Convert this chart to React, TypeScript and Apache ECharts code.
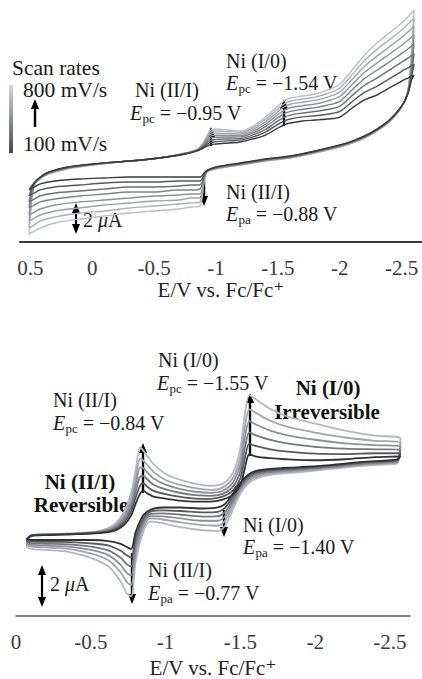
import React, { useEffect, useRef } from 'react';
import * as echarts from 'echarts';

const SERIF = '"Liberation Serif", "DejaVu Serif", serif';

// ---------- Top panel: scan rates 100–800 mV/s ----------
const TOP_RATES = ['100 mV/s', '200 mV/s', '300 mV/s', '400 mV/s', '500 mV/s', '600 mV/s', '700 mV/s', '800 mV/s'];
const TOP_COLORS = ['#3b3b3d', '#56585c', '#6b6e73', '#7e8187', '#8f929a', '#9ea2aa', '#acb0b9', '#b9bdc7'];
const TOP_TICKS = [0.5, 0, -0.5, -1, -1.5, -2, -2.5];

// forward (cathodic) scan: potential (V vs Fc/Fc+)
const TOP_FWD_E = [0.51, 0.47, 0.42, 0.35, 0.2, 0, -0.2, -0.4, -0.6, -0.75, -0.85, -0.9, -0.95, -1.0, -1.1, -1.2, -1.3, -1.4, -1.5, -1.55, -1.6, -1.7, -1.8, -1.9, -2.0, -2.1, -2.2, -2.3, -2.4, -2.5, -2.55, -2.6];
// current (µA, arbitrary offset); one column per scan rate
const TOP_FWD_I = [
  [-0.53, -0.93, -1.33, -1.73, -2.2, -2.6, -3.07, -3.47],
  [-0.07, -0.1, -0.13, -0.15, -0.18, -0.2, -0.23, -0.27],
  [0.33, 0.32, 0.3, 0.28, 0.27, 0.25, 0.23, 0.2],
  [0.67, 0.65, 0.63, 0.62, 0.6, 0.58, 0.56, 0.53],
  [1.0, 0.98, 0.97, 0.95, 0.93, 0.92, 0.9, 0.87],
  [1.2, 1.19, 1.18, 1.17, 1.16, 1.15, 1.14, 1.13],
  [1.34, 1.34, 1.33, 1.33, 1.33, 1.33, 1.32, 1.32],
  [1.47, 1.47, 1.47, 1.47, 1.47, 1.47, 1.47, 1.47],
  [1.67, 1.67, 1.67, 1.67, 1.67, 1.67, 1.67, 1.67],
  [1.87, 1.87, 1.88, 1.89, 1.9, 1.91, 1.92, 1.93],
  [2.07, 2.09, 2.11, 2.13, 2.15, 2.16, 2.18, 2.2],
  [2.27, 2.33, 2.39, 2.45, 2.5, 2.56, 2.61, 2.67],
  [2.47, 2.62, 2.76, 2.9, 3.03, 3.16, 3.28, 3.4],
  [2.53, 2.69, 2.84, 2.98, 3.12, 3.26, 3.4, 3.53],
  [2.6, 2.74, 2.87, 3.0, 3.12, 3.24, 3.36, 3.47],
  [2.67, 2.79, 2.9, 3.01, 3.11, 3.21, 3.31, 3.4],
  [2.87, 3.01, 3.14, 3.27, 3.39, 3.51, 3.62, 3.73],
  [3.13, 3.33, 3.51, 3.69, 3.86, 4.02, 4.18, 4.33],
  [3.6, 3.84, 4.07, 4.29, 4.5, 4.7, 4.89, 5.07],
  [3.8, 4.06, 4.31, 4.55, 4.78, 5.0, 5.2, 5.4],
  [3.93, 4.2, 4.46, 4.71, 4.95, 5.18, 5.4, 5.6],
  [4.07, 4.34, 4.6, 4.85, 5.09, 5.32, 5.53, 5.73],
  [4.13, 4.42, 4.7, 4.96, 5.2, 5.44, 5.66, 5.87],
  [4.2, 4.52, 4.83, 5.12, 5.4, 5.66, 5.9, 6.13],
  [4.33, 4.7, 5.05, 5.38, 5.7, 6.0, 6.27, 6.53],
  [4.93, 5.36, 5.77, 6.15, 6.5, 6.84, 7.16, 7.47],
  [5.47, 5.97, 6.45, 6.9, 7.32, 7.72, 8.1, 8.47],
  [5.8, 6.38, 6.93, 7.45, 7.93, 8.39, 8.84, 9.27],
  [6.27, 6.88, 7.46, 8.0, 8.52, 9.01, 9.48, 9.93],
  [6.73, 7.38, 7.99, 8.57, 9.12, 9.64, 10.13, 10.6],
  [6.93, 7.61, 8.26, 8.87, 9.45, 10.0, 10.51, 11.0],
  [7.13, 7.86, 8.55, 9.2, 9.82, 10.4, 10.95, 11.47],
];
// reverse (anodic) scan
const TOP_REV_E = [-2.58, -2.55, -2.5, -2.4, -2.3, -2.2, -2.1, -2.0, -1.8, -1.6, -1.4, -1.2, -1.0, -0.92, -0.87, -0.8, -0.7, -0.5, -0.3, -0.1, 0.1, 0.3, 0.42, 0.48, 0.51];
const TOP_REV_I = [
  [6.8, 7.0, 7.3, 7.6, 7.9, 8.2, 8.5, 8.8],
  [5.87, 5.9, 5.93, 5.97, 6.0, 6.03, 6.07, 6.1],
  [5.07, 5.06, 5.05, 5.04, 5.03, 5.02, 5.01, 5.0],
  [4.13, 4.11, 4.09, 4.07, 4.05, 4.03, 4.01, 4.0],
  [3.53, 3.51, 3.49, 3.47, 3.45, 3.43, 3.41, 3.4],
  [3.07, 3.05, 3.03, 3.01, 2.99, 2.97, 2.95, 2.93],
  [2.73, 2.71, 2.69, 2.67, 2.65, 2.63, 2.61, 2.6],
  [2.47, 2.45, 2.43, 2.41, 2.39, 2.37, 2.35, 2.33],
  [2.07, 2.05, 2.03, 2.01, 1.99, 1.97, 1.95, 1.93],
  [1.73, 1.71, 1.69, 1.67, 1.65, 1.63, 1.61, 1.6],
  [1.53, 1.51, 1.49, 1.47, 1.45, 1.43, 1.41, 1.4],
  [1.27, 1.25, 1.23, 1.21, 1.19, 1.17, 1.15, 1.13],
  [1.0, 0.98, 0.96, 0.94, 0.92, 0.9, 0.88, 0.87],
  [0.73, 0.71, 0.69, 0.67, 0.65, 0.63, 0.61, 0.6],
  [0.33, 0.07, -0.2, -0.47, -0.8, -1.07, -1.33, -1.6],
  [0.33, 0.07, -0.2, -0.53, -0.8, -1.07, -1.4, -1.67],
  [0.33, 0.07, -0.27, -0.53, -0.87, -1.2, -1.47, -1.8],
  [0.33, 0, -0.33, -0.67, -0.93, -1.27, -1.6, -1.93],
  [0.33, 0, -0.33, -0.67, -1.07, -1.4, -1.73, -2.07],
  [0.27, -0.07, -0.47, -0.8, -1.2, -1.53, -1.93, -2.27],
  [0.2, -0.2, -0.6, -0.93, -1.33, -1.73, -2.07, -2.47],
  [0.07, -0.33, -0.73, -1.13, -1.53, -1.93, -2.33, -2.73],
  [-0.13, -0.53, -0.93, -1.33, -1.8, -2.2, -2.6, -3.07],
  [-0.4, -0.8, -1.2, -1.6, -2.07, -2.47, -2.93, -3.33],
  [-0.53, -0.93, -1.33, -1.73, -2.2, -2.6, -3.07, -3.47],
];

// ---------- Bottom panel ----------
const BOT_RATES = ['100 mV/s', '200 mV/s', '300 mV/s', '400 mV/s', '500 mV/s', '600 mV/s'];
const BOT_COLORS = ['#333335', '#58595d', '#75787d', '#8d9097', '#a2a6ae', '#b4b8c2'];
const BOT_TICKS = [0, -0.5, -1, -1.5, -2, -2.5];

const BOT_FWD_E = [-0.07, -0.1, -0.2, -0.4, -0.55, -0.65, -0.72, -0.77, -0.8, -0.83, -0.85, -0.88, -0.92, -1.0, -1.1, -1.2, -1.3, -1.38, -1.45, -1.5, -1.53, -1.56, -1.6, -1.7, -1.8, -2.0, -2.2, -2.4, -2.57];
const BOT_FWD_I = [
  [-0.1, -0.17, -0.24, -0.31, -0.39, -0.48],
  [0.05, 0.06, 0.07, 0.08, 0.09, 0.1],
  [0.1, 0.11, 0.12, 0.12, 0.13, 0.14],
  [0.14, 0.15, 0.16, 0.17, 0.18, 0.19],
  [0.19, 0.21, 0.23, 0.25, 0.27, 0.29],
  [0.29, 0.34, 0.39, 0.45, 0.5, 0.57],
  [0.57, 0.68, 0.8, 0.92, 1.04, 1.19],
  [1.05, 1.25, 1.45, 1.66, 1.88, 2.14],
  [1.62, 1.91, 2.22, 2.53, 2.85, 3.24],
  [2.1, 2.5, 2.93, 3.35, 3.8, 4.33],
  [2.24, 2.6, 2.96, 3.33, 3.7, 4.19],
  [2.1, 2.42, 2.77, 3.11, 3.47, 3.9],
  [1.95, 2.23, 2.53, 2.83, 3.14, 3.52],
  [1.86, 2.07, 2.3, 2.53, 2.76, 3.05],
  [1.76, 1.94, 2.13, 2.32, 2.52, 2.76],
  [1.71, 1.86, 2.03, 2.19, 2.36, 2.57],
  [1.71, 1.85, 1.99, 2.14, 2.28, 2.48],
  [1.81, 1.95, 2.09, 2.24, 2.39, 2.57],
  [2.05, 2.24, 2.44, 2.64, 2.85, 3.1],
  [2.52, 2.84, 3.17, 3.51, 3.87, 4.29],
  [3.33, 3.8, 4.3, 4.8, 5.32, 5.95],
  [4.0, 4.51, 5.06, 5.6, 6.17, 6.86],
  [3.9, 4.4, 4.92, 5.45, 6.01, 6.67],
  [3.81, 4.24, 4.69, 5.14, 5.62, 6.19],
  [3.76, 4.14, 4.54, 4.94, 5.36, 5.86],
  [3.71, 4.03, 4.36, 4.7, 5.05, 5.48],
  [3.76, 4.01, 4.27, 4.53, 4.81, 5.14],
  [3.86, 4.05, 4.24, 4.44, 4.65, 4.9],
  [3.9, 4.05, 4.22, 4.38, 4.55, 4.76],
];
const BOT_REV_E = [-2.55, -2.5, -2.3, -2.1, -1.9, -1.7, -1.6, -1.55, -1.5, -1.45, -1.4, -1.35, -1.25, -1.1, -0.98, -0.9, -0.85, -0.8, -0.77, -0.74, -0.7, -0.62, -0.5, -0.35, -0.2, -0.1, -0.07];
const BOT_REV_I = [
  [3.76, 3.72, 3.69, 3.65, 3.61, 3.57],
  [3.71, 3.68, 3.64, 3.6, 3.57, 3.52],
  [3.62, 3.59, 3.55, 3.51, 3.48, 3.43],
  [3.48, 3.45, 3.41, 3.37, 3.34, 3.29],
  [3.38, 3.34, 3.29, 3.25, 3.2, 3.14],
  [3.29, 3.24, 3.18, 3.13, 3.07, 3.0],
  [3.19, 3.12, 3.05, 2.98, 2.9, 2.81],
  [3.0, 2.92, 2.84, 2.76, 2.67, 2.57],
  [2.62, 2.53, 2.43, 2.33, 2.22, 2.1],
  [2.1, 1.96, 1.81, 1.67, 1.52, 1.33],
  [1.62, 1.43, 1.23, 1.03, 0.82, 0.57],
  [1.43, 1.22, 1.01, 0.79, 0.56, 0.29],
  [1.38, 1.19, 0.99, 0.79, 0.58, 0.33],
  [1.43, 1.26, 1.08, 0.9, 0.71, 0.48],
  [1.43, 1.29, 1.15, 1.0, 0.85, 0.67],
  [1.33, 1.23, 1.12, 1.01, 0.9, 0.76],
  [1.05, 0.9, 0.75, 0.6, 0.43, 0.24],
  [0.24, -0.02, -0.29, -0.56, -0.85, -1.19],
  [-0.57, -0.98, -1.42, -1.85, -2.31, -2.86],
  [-0.48, -0.88, -1.31, -1.73, -2.17, -2.71],
  [-0.33, -0.66, -1.0, -1.34, -1.71, -2.14],
  [-0.19, -0.41, -0.65, -0.88, -1.13, -1.43],
  [-0.14, -0.3, -0.46, -0.62, -0.79, -1.0],
  [-0.14, -0.24, -0.35, -0.46, -0.57, -0.71],
  [-0.14, -0.23, -0.32, -0.41, -0.5, -0.62],
  [-0.14, -0.22, -0.3, -0.38, -0.46, -0.57],
  [-0.1, -0.17, -0.24, -0.31, -0.39, -0.48],
];

function buildSeries(fwdE: number[], fwdI: number[][], revE: number[], revI: number[][], names: string[], colors: string[], width: number, idx: number) {
  const out: any[] = [];
  for (let k = colors.length - 1; k >= 0; k--) {
    const data: number[][] = [];
    fwdE.forEach((e, i) => { if (fwdI[i]) data.push([e, fwdI[i][k]]); });
    revE.forEach((e, i) => { if (revI[i]) data.push([e, revI[i][k]]); });
    out.push({
      type: 'line', name: names[k], xAxisIndex: idx, yAxisIndex: idx, data,
      showSymbol: false, symbol: 'none', smooth: 0.3, silent: true,
      lineStyle: { color: colors[k], width },
    });
  }
  return out;
}

function txt(x: number, y: number, text: string, extra: any = {}) {
  return {
    type: 'text', x, y, silent: true,
    style: { text, fontFamily: SERIF, fontSize: 20, fill: '#1a1a1a', align: 'left', verticalAlign: 'middle', ...extra },
  };
}

function eLabel(x: number, y: number, sub: string, rest: string) {
  return [
    txt(x, y, 'E', { fontStyle: 'italic' }),
    txt(x + 12.4, y + 5, sub, { fontSize: 13 }),
    txt(x + 24.8, y, ' = ' + rest),
  ];
}

function arrowUp(x: number, yBottom: number, yTip: number) {
  return [
    { type: 'line', silent: true, shape: { x1: x, y1: yBottom, x2: x, y2: yTip + 8 }, style: { stroke: '#000', lineWidth: 2.4 } },
    { type: 'polygon', silent: true, shape: { points: [[x - 4, yTip + 10], [x + 4, yTip + 10], [x, yTip]] }, style: { fill: '#000' } },
  ];
}
function arrowDown(x: number, yTop: number, yTip: number) {
  return [
    { type: 'line', silent: true, shape: { x1: x, y1: yTop, x2: x, y2: yTip - 8 }, style: { stroke: '#000', lineWidth: 2.4 } },
    { type: 'polygon', silent: true, shape: { points: [[x - 4, yTip - 10], [x + 4, yTip - 10], [x, yTip]] }, style: { fill: '#000' } },
  ];
}
function arrowBoth(x: number, yTop: number, yBottom: number) {
  return [
    { type: 'line', silent: true, shape: { x1: x, y1: yTop + 8, x2: x, y2: yBottom - 8 }, style: { stroke: '#000', lineWidth: 2.2 } },
    { type: 'polygon', silent: true, shape: { points: [[x - 4, yTop + 10], [x + 4, yTop + 10], [x, yTop]] }, style: { fill: '#000' } },
    { type: 'polygon', silent: true, shape: { points: [[x - 4, yBottom - 10], [x + 4, yBottom - 10], [x, yBottom]] }, style: { fill: '#000' } },
  ];
}
function muLabel(x: number, y: number) {
  return {
    type: 'text', x, y, silent: true,
    style: {
      text: '{n|2 }{i|μ}{n|A}', align: 'left', verticalAlign: 'middle',
      rich: {
        n: { fontFamily: SERIF, fontSize: 20, fill: '#1a1a1a' },
        i: { fontFamily: SERIF, fontSize: 20, fontStyle: 'italic', fill: '#1a1a1a' },
      },
    },
  };
}
function bold(x: number, y: number, text: string) {
  return txt(x, y, text, { fontWeight: 'bold', fontSize: 21, align: 'center', fill: '#111' });
}

function xAxisCfg(idx: number, min: number, max: number, ticks: number[], lineColor: string, lineWidth: number, nameGap: number) {
  return {
    type: 'value', gridIndex: idx, inverse: true, min, max,
    axisLine: { show: true, onZero: false, lineStyle: { color: lineColor, width: lineWidth } },
    axisTick: { show: false }, splitLine: { show: false },
    axisLabel: {
      customValues: ticks, color: '#3a3a3a', fontSize: 21, fontFamily: SERIF, margin: 15,
      formatter: (v: number) => String(v),
    },
    name: 'E/V vs. Fc/Fc⁺', nameLocation: 'middle', nameGap,
    nameTextStyle: { color: '#222', fontSize: 21, fontFamily: SERIF },
  };
}

export default function App() {
  const ref = useRef<HTMLDivElement>(null);
  useEffect(() => {
    if (!ref.current) return;
    const chart = echarts.init(ref.current, null, { renderer: 'svg' });
    const graphics: any[] = [
      // top panel annotations
      txt(12, 68, 'Scan rates', { fontSize: 21.5 }),
      {
        type: 'rect', silent: true, shape: { x: 9, y: 85, width: 4, height: 68 },
        style: { fill: new echarts.graphic.LinearGradient(0, 0, 0, 1, [{ offset: 0, color: '#d2d6de' }, { offset: 1, color: '#48484a' }]) },
      },
      txt(23, 90, '800 mV/s', { fontSize: 21.5 }),
      ...arrowUp(35, 127, 99),
      txt(23, 144, '100 mV/s', { fontSize: 21.5 }),
      txt(135, 90, 'Ni (II/I)'),
      ...eLabel(130, 113, 'pc', '−0.95 V'),
      ...arrowUp(211, 146, 127),
      txt(226, 61, 'Ni (I/0)'),
      ...eLabel(226, 83, 'pc', '−1.54 V'),
      ...arrowUp(284, 126, 99),
      txt(226, 192, 'Ni (II/I)'),
      ...eLabel(226, 214, 'pa', '−0.88 V'),
      ...arrowDown(204, 176, 206),
      ...arrowBoth(76, 203, 234),
      muLabel(83, 220),
      // bottom panel annotations
      txt(158, 360, 'Ni (I/0)'),
      ...eLabel(157, 383, 'pc', '−1.55 V'),
      txt(53, 400, 'Ni (II/I)'),
      ...eLabel(53, 423, 'pc', '−0.84 V'),
      bold(328, 388, 'Ni (I/0)'),
      bold(327, 412, 'Irreversible'),
      bold(80, 482, 'Ni (II/I)'),
      bold(81, 505, 'Reversible'),
      ...arrowUp(143, 493, 443),
      ...arrowUp(250, 456, 393),
      txt(243, 525, 'Ni (I/0)'),
      ...eLabel(243, 547, 'pa', '−1.40 V'),
      ...arrowDown(224, 510, 537),
      txt(148, 570, 'Ni (II/I)'),
      ...eLabel(148, 593, 'pa', '−0.77 V'),
      ...arrowDown(132, 553, 604),
      ...arrowBoth(42, 565, 607),
      muLabel(50, 584),
    ];
    chart.setOption({
      animation: false,
      backgroundColor: '#ffffff',
      grid: [
        { left: 20, right: 0, top: 0, height: 242 },
        { left: 16, right: 12, top: 330, height: 290 },
      ],
      xAxis: [
        xAxisCfg(0, -2.664, 0.583, TOP_TICKS, '#3a3a3a', 2, 37),
        xAxisCfg(1, -2.634, 0, BOT_TICKS, '#555555', 1.5, 41),
      ],
      yAxis: [
        { type: 'value', gridIndex: 0, min: -4, max: 12.133, show: false },
        { type: 'value', gridIndex: 1, min: -3.8095, max: 10, show: false },
      ],
      series: [
        ...buildSeries(TOP_FWD_E, TOP_FWD_I, TOP_REV_E, TOP_REV_I, TOP_RATES, TOP_COLORS, 1.4, 0),
        ...buildSeries(BOT_FWD_E, BOT_FWD_I, BOT_REV_E, BOT_REV_I, BOT_RATES, BOT_COLORS, 1.8, 1),
      ],
      graphic: graphics,
    });
    return () => chart.dispose();
  }, []);
  return <div ref={ref} style={{ position: 'absolute', left: 0, top: 0, width: 422, height: 679, background: '#fff' }} />;
}
